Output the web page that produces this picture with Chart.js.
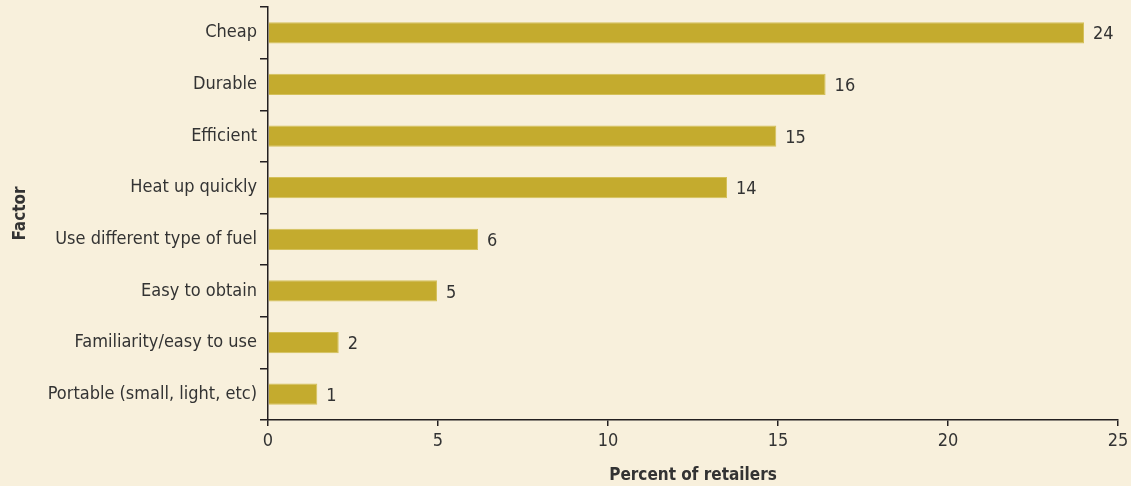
<!DOCTYPE html>
<html><head><meta charset="utf-8">
<script src="https://cdn.jsdelivr.net/npm/chart.js@4"></script>
<style>html,body{margin:0;padding:0;background:#F8F0DC;}#wrap{width:1131px;height:486px;position:relative;}</style>
</head><body><div id="wrap"><canvas id="c" width="1131" height="486"></canvas></div>
<script>
const categories = ["Cheap","Durable","Efficient","Heat up quickly","Use different type of fuel","Easy to obtain","Familiarity/easy to use","Portable (small, light, etc)"];
const values = [24.0, 16.4, 14.95, 13.5, 6.18, 4.97, 2.08, 1.45];
const valueLabels = ["24","16","15","14","6","5","2","1"];
const xTicks = [0,5,10,15,20,25];
const FONT = "'Liberation Sans Narrow','DejaVu Sans Condensed','Roboto Condensed',sans-serif";
const TXT = '#333333';
const AX = '#231f20';

const labelPlugin = {
  id: 'valLabels',
  afterDatasetsDraw(chart) {
    const ctx = chart.ctx;
    const meta = chart.getDatasetMeta(0);
    ctx.save();
    ctx.font = '18px ' + FONT;
    ctx.fillStyle = TXT;
    ctx.textAlign = 'left';
    ctx.textBaseline = 'middle';
    meta.data.forEach((el, i) => {
      ctx.fillText(valueLabels[i], el.x + 9, el.y + 2);
    });
    ctx.restore();
  }
};

new Chart(document.getElementById('c'), {
  type: 'bar',
  data: {
    labels: categories,
    datasets: [{
      data: values,
      backgroundColor: '#C4AB2E',
      borderColor: '#D4C05A',
      borderWidth: 1,
      categoryPercentage: 1.0,
      barPercentage: 0.41
    }]
  },
  options: {
    indexAxis: 'y',
    responsive: false,
    animation: false,
    devicePixelRatio: 1,
    layout: { padding: { top: 7, right: 13, left: 0, bottom: 0 } },
    plugins: { legend: { display: false }, tooltip: { enabled: false } },
    scales: {
      x: {
        type: 'linear',
        min: 0, max: 25,
        afterBuildTicks: (axis) => { axis.ticks = xTicks.map(v => ({ value: v })); },
        afterFit: (axis) => { axis.height = 66; axis.paddingLeft = 0; axis.paddingRight = 0; },
        grid: { drawOnChartArea: false, drawTicks: true, tickLength: 6, color: AX, lineWidth: 1.5 },
        border: { display: true, color: AX, width: 1.5 },
        ticks: { color: TXT, font: { family: FONT, size: 18 }, padding: 5, maxRotation: 0 },
        title: { display: true, text: 'Percent of retailers', color: TXT, font: { family: FONT, size: 17, weight: 'bold' }, padding: { top: 4, bottom: 0 } }
      },
      y: {
        type: 'category',
        afterFit: (axis) => { axis.width = 268; axis.paddingTop = 0; axis.paddingBottom = 0; },
        grid: { offset: true, drawOnChartArea: false, drawTicks: true, tickLength: 8, color: AX, lineWidth: 1.5 },
        border: { display: true, color: AX, width: 1.5 },
        ticks: { color: TXT, font: { family: FONT, size: 18 }, padding: 3 },
        title: { display: true, text: 'Factor', color: TXT, font: { family: FONT, size: 17, weight: 'bold' }, padding: { top: 10, bottom: 0 } }
      }
    }
  },
  plugins: [labelPlugin]
});
</script></body></html>
